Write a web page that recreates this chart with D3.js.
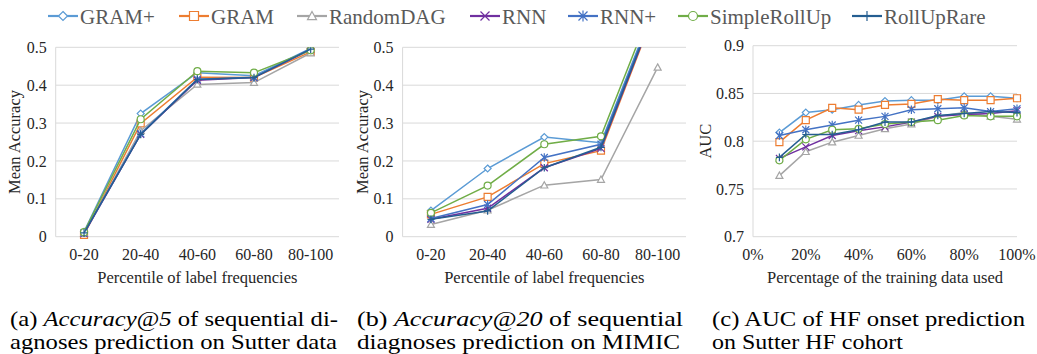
<!DOCTYPE html>
<html>
<head>
<meta charset="utf-8">
<script src="https://cdn.jsdelivr.net/npm/d3@7"></script>
<style>
  body { margin: 0; background: #fff; }
</style>
</head>
<body>
<svg id="chart" width="1037" height="354"></svg>
<script>
// series, in legend order
const seriesNames = ['GRAM+', 'GRAM', 'RandomDAG', 'RNN', 'RNN+', 'SimpleRollUp', 'RollUpRare'];
const seriesColors = ['#5b9bd5', '#ed7d31', '#a5a5a5', '#7030a0', '#4472c4', '#70ad47', '#255e91'];
const seriesMarkers = ['diamond', 'square', 'triangle', 'cross', 'star', 'circle', 'plus'];

// (a) and (b): percentile bins of label frequencies
const freqBins = ['0-20', '20-40', '40-60', '60-80', '80-100'];
const accAt5 = [
  [0.013, 0.325, 0.433, 0.425, 0.497],
  [0.005, 0.299, 0.421, 0.420, 0.488],
  [0.008, 0.280, 0.402, 0.407, 0.485],
  [0.008, 0.270, 0.413, 0.420, 0.494],
  [0.010, 0.272, 0.416, 0.421, 0.496],
  [0.012, 0.310, 0.437, 0.433, 0.492],
  [0.010, 0.270, 0.415, 0.420, 0.495]
];
const accAt20 = [
  [0.069, 0.180, 0.263, 0.248, 0.630],
  [0.059, 0.105, 0.193, 0.227, 0.615],
  [0.032, 0.070, 0.136, 0.151, 0.447],
  [0.046, 0.075, 0.182, 0.233, 0.618],
  [0.048, 0.085, 0.209, 0.244, 0.625],
  [0.063, 0.135, 0.244, 0.265, 0.645],
  [0.046, 0.068, 0.182, 0.236, 0.620]
];
const accTicks = [0, 0.1, 0.2, 0.3, 0.4, 0.5];

// (c): share of training data used
const trainShare = [0.1, 0.2, 0.3, 0.4, 0.5, 0.6, 0.7, 0.8, 0.9, 1.0];
const aucValues = [
  [0.809, 0.830, 0.833, 0.838, 0.842, 0.843, 0.843, 0.847, 0.847, 0.845],
  [0.799, 0.822, 0.835, 0.833, 0.838, 0.839, 0.844, 0.843, 0.843, 0.845],
  [0.764, 0.789, 0.799, 0.806, 0.813, 0.818, 0.826, 0.830, 0.826, 0.823],
  [0.782, 0.794, 0.806, 0.811, 0.815, 0.820, 0.826, 0.828, 0.829, 0.832],
  [0.806, 0.812, 0.817, 0.822, 0.826, 0.833, 0.834, 0.835, 0.831, 0.834],
  [0.780, 0.802, 0.812, 0.813, 0.818, 0.820, 0.822, 0.827, 0.826, 0.826],
  [0.783, 0.807, 0.807, 0.812, 0.820, 0.820, 0.827, 0.829, 0.831, 0.830]
];
const aucTicks = [0.7, 0.75, 0.8, 0.85, 0.9];
const shareTicks = [0, 0.2, 0.4, 0.6, 0.8, 1.0];

const FONT = "'Liberation Serif'";
const svg = d3.select('#chart');

// marker shapes, r = half size
function markerPath(type, r) {
  const p = d3.path();
  switch (type) {
    case 'diamond':
      p.moveTo(0, -r); p.lineTo(r, 0); p.lineTo(0, r); p.lineTo(-r, 0); p.closePath(); break;
    case 'square':
      p.rect(-r, -r, 2 * r, 2 * r); break;
    case 'triangle':
      p.moveTo(0, -r); p.lineTo(r, r * 0.8); p.lineTo(-r, r * 0.8); p.closePath(); break;
    case 'circle':
      p.arc(0, 0, r, 0, 2 * Math.PI); break;
    case 'cross':
      p.moveTo(-r, -r); p.lineTo(r, r); p.moveTo(r, -r); p.lineTo(-r, r); break;
    case 'star':
      p.moveTo(-r, -r); p.lineTo(r, r); p.moveTo(r, -r); p.lineTo(-r, r);
      p.moveTo(0, -r * 1.2); p.lineTo(0, r * 1.2); break;
    case 'plus':
      p.moveTo(-r, 0); p.lineTo(r, 0); p.moveTo(0, -r * 1.1); p.lineTo(0, r * 1.1); break;
  }
  return p.toString();
}

function drawMarkers(g, type, color, pts, r) {
  g.selectAll(null)
    .data(pts)
    .join('path')
    .attr('transform', (d) => `translate(${d[0]},${d[1]})`)
    .attr('d', markerPath(type, r))
    .attr('fill', ['cross', 'star', 'plus'].includes(type) ? 'none' : '#fff')
    .attr('stroke', color)
    .attr('stroke-width', 1.2);
}

// legend
const legendX = [48, 179, 297, 470, 568, 678, 852];
const legend = svg.append('g').attr('transform', 'translate(0, 16)');
seriesNames.forEach((name, i) => {
  const g = legend.append('g').attr('transform', `translate(${legendX[i]}, 0)`);
  g.append('line').attr('x1', 0).attr('x2', 30).attr('stroke', seriesColors[i]).attr('stroke-width', 2.2);
  drawMarkers(g, seriesMarkers[i], seriesColors[i], [[15, 0]], 4.5);
  g.append('text').attr('x', 32).attr('y', 7.5)
    .style('font-family', FONT).attr('font-size', 21).attr('fill', '#595959').text(name);
});

function drawPanel(cfg) {
  const { x, y, yTicks, yFormat, xTicks, xFormat, values, xValues, id } = cfg;
  const [left, right] = x.range();
  const [bottom, top] = y.range();
  const g = svg.append('g');

  // grid
  g.selectAll(null).data(yTicks).join('line')
    .attr('x1', left).attr('x2', right)
    .attr('y1', (d) => y(d)).attr('y2', (d) => y(d))
    .attr('stroke', '#d9d9d9').attr('stroke-width', 1);
  g.append('line').attr('x1', left).attr('x2', left).attr('y1', top).attr('y2', bottom)
    .attr('stroke', '#d9d9d9').attr('stroke-width', 1);

  // y tick labels
  g.selectAll(null).data(yTicks).join('text')
    .attr('x', left - 9).attr('y', (d) => y(d)).attr('dy', '0.35em')
    .attr('text-anchor', 'end').style('font-family', FONT).attr('font-size', 16).attr('fill', '#262626')
    .text(yFormat);

  // x tick labels
  g.selectAll(null).data(xTicks).join('text')
    .attr('x', (d) => x(d)).attr('y', 260)
    .attr('text-anchor', 'middle').style('font-family', FONT).attr('font-size', 16).attr('fill', '#262626')
    .text(xFormat);

  // axis titles
  g.append('text').attr('x', (left + right) / 2).attr('y', 283)
    .attr('text-anchor', 'middle').style('font-family', FONT).attr('font-size', 16.5).attr('fill', '#262626')
    .text(cfg.xTitle);
  g.append('text')
    .attr('transform', `translate(${cfg.yTitleX}, ${(top + bottom) / 2}) rotate(-90)`)
    .attr('text-anchor', 'middle').attr('dy', '0.35em')
    .style('font-family', FONT).attr('font-size', 16.5).attr('fill', '#262626')
    .text(cfg.yTitle);

  // clip for values above the axis range
  svg.append('clipPath').attr('id', id)
    .append('rect').attr('x', left - 10).attr('y', top).attr('width', right - left + 20).attr('height', bottom - top + 10);

  const plot = g.append('g').attr('clip-path', `url(#${id})`);
  const line = d3.line().x((d) => d[0]).y((d) => d[1]);
  values.forEach((row, i) => {
    const pts = row.map((v, j) => [x(xValues[j]), y(v)]);
    plot.append('path').attr('d', line(pts))
      .attr('fill', 'none').attr('stroke', seriesColors[i]).attr('stroke-width', 1.5);
    drawMarkers(plot.append('g'), seriesMarkers[i], seriesColors[i], pts, 3.5);
  });
}

drawPanel({
  id: 'clip-a',
  x: d3.scalePoint().domain(freqBins).range([55.7, 339]).padding(0.5),
  y: d3.scaleLinear().domain([0, 0.5]).range([236.7, 47.3]),
  yTicks: accTicks, yFormat: (d) => d3.format('')(d),
  xTicks: freqBins, xFormat: (d) => d,
  xValues: freqBins, values: accAt5,
  xTitle: 'Percentile of label frequencies', yTitle: 'Mean Accuracy', yTitleX: 14
});

drawPanel({
  id: 'clip-b',
  x: d3.scalePoint().domain(freqBins).range([402.6, 686]).padding(0.5),
  y: d3.scaleLinear().domain([0, 0.5]).range([236.7, 47.3]),
  yTicks: accTicks, yFormat: (d) => d3.format('')(d),
  xTicks: freqBins, xFormat: (d) => d,
  xValues: freqBins, values: accAt20,
  xTitle: 'Percentile of label frequencies', yTitle: 'Mean Accuracy', yTitleX: 362
});

drawPanel({
  id: 'clip-c',
  x: d3.scaleLinear().domain([0, 1]).range([753, 1017]),
  y: d3.scaleLinear().domain([0.7, 0.9]).range([236.7, 45.7]),
  yTicks: aucTicks, yFormat: (d) => d3.format('')(d),
  xTicks: shareTicks, xFormat: d3.format('.0%'),
  xValues: trainShare, values: aucValues,
  xTitle: 'Percentage of the training data used', yTitle: 'AUC', yTitleX: 705
});

// captions (justified serif)
const captions = [
  { x: 10, lines: [
      [['(a) ', false], ['Accuracy@5', true], [' of sequential di-', false]],
      [['agnoses prediction on Sutter data', false]]
    ], widths: [328, 327] },
  { x: 357, lines: [
      [['(b) ', false], ['Accuracy@20', true], [' of sequential', false]],
      [['diagnoses prediction on MIMIC', false]]
    ], widths: [326, 323] },
  { x: 712, lines: [
      [['(c) AUC of HF onset prediction', false]],
      [['on Sutter HF cohort', false]]
    ], widths: [313, 191] }
];
captions.forEach((c) => {
  c.lines.forEach((parts, li) => {
    const t = svg.append('text').attr('x', c.x).attr('y', 326 + li * 23)
      .style('font-family', FONT).attr('font-size', 22).attr('fill', '#000')
      .attr('textLength', c.widths[li]).attr('lengthAdjust', 'spacingAndGlyphs');
    parts.forEach(([s, it]) => {
      t.append('tspan').attr('font-style', it ? 'italic' : 'normal').text(s);
    });
  });
});
</script>
</body>
</html>
